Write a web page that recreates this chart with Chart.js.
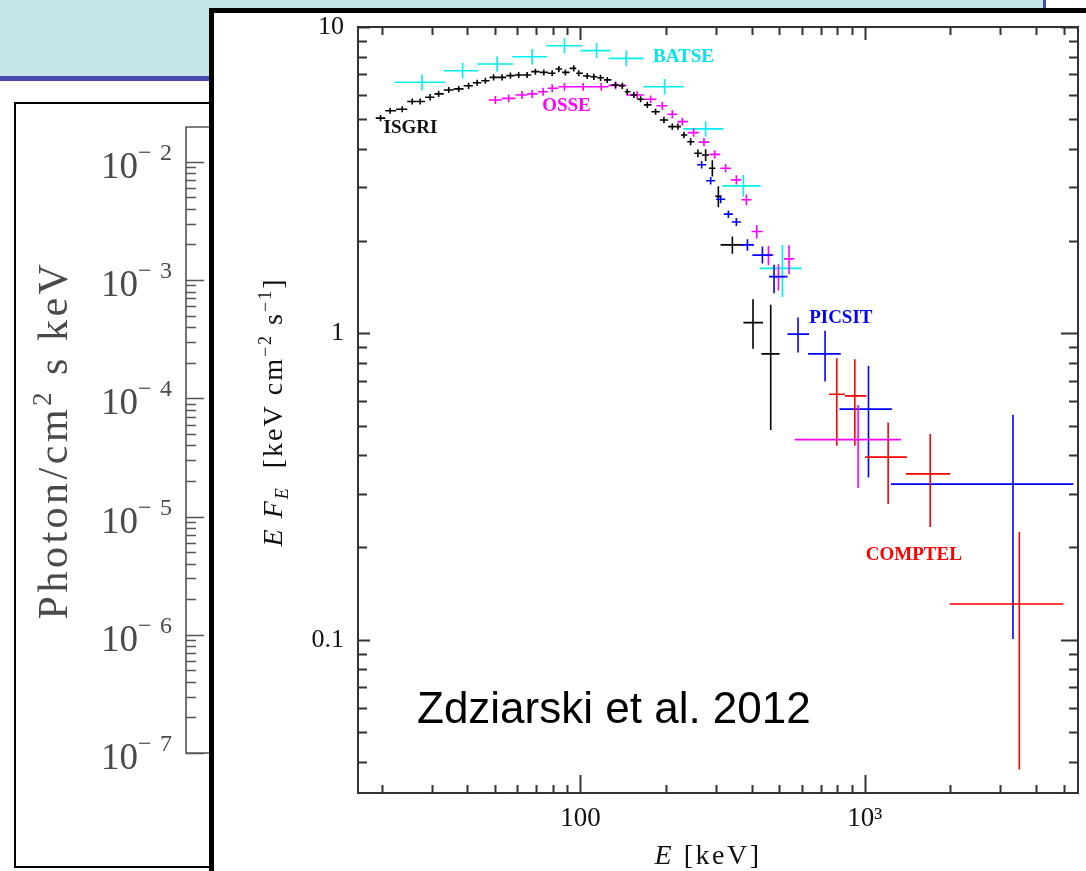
<!DOCTYPE html>
<html>
<head>
<meta charset="utf-8">
<script src="https://cdn.jsdelivr.net/npm/chart.js@4.4.1/dist/chart.umd.min.js"></script>
<style>
  body { margin: 0; width: 1086px; height: 871px; position: relative; overflow: hidden; background: #fff; }
  #header { position: absolute; left: 0; top: 0; width: 1043px; height: 76px; background: #c5e5e8; }
  #rule { position: absolute; left: 0; top: 76px; width: 1043px; height: 5px; background: #4848ae; }
  #edge { position: absolute; left: 1043px; top: 0; width: 3px; height: 81px; background: #4848ae; }
  #leftBox { position: absolute; left: 14px; top: 102px; width: 280px; height: 766px; box-sizing: border-box;
             border: 2px solid #000; background: #fff; }
  #behind { position: absolute; left: 16px; top: 104px; }
  #front { position: absolute; left: 209px; top: 8px; width: 900px; height: 900px;
           border-left: 5px solid #000; border-top: 5px solid #000; background: #fff; }
  #spectrum { position: absolute; left: 0; top: -13px; }
  #cite { position: absolute; left: 417px; top: 686px; font: 44px "Liberation Sans", Arial, sans-serif;
          line-height: 1; color: #000; white-space: nowrap; }
</style>
</head>
<body>
<div id="header"></div>
<div id="rule"></div>
<div id="edge"></div>
<div id="leftBox"></div>
<canvas id="behind" width="230" height="762"></canvas>
<div id="front"><canvas id="spectrum" width="872" height="871"></canvas></div>
<div id="cite">Zdziarski et al. 2012</div>

<script>
// ---- axes ----
var eRange = [16.5, 5620];          // E [keV]
var fRange = [0.0316, 10];          // E F_E [keV cm^-2 s^-1]
var eTicks = [100, 1000];
var eTickLabels = ['100', '10\u00b3'];
var fTicks = [0.1, 1, 10];
var fTickLabels = ['0.1', '1', '10'];

// photon-flux panel behind (only its axis shows)
var bgRange = [1e-7, 0.0197];
var bgExponents = [-7, -6, -5, -4, -3, -2];

// ---- ISGRI (contiguous bins) ----
var isgriE = [19.8, 21.4, 23.6, 25.6, 27.3, 29.6, 31.7, 34.4, 37.3, 40.4, 43.3, 46.3, 49.5, 53.0, 56.7,
              60.6, 64.9, 69.4, 74.3, 79.5, 83.9, 88.5, 94.7, 98.6, 105.6, 111.4, 117.6, 124.2, 132.8,
              140.3, 146.0, 154.1, 162.7, 171.8, 183.7, 196.6, 210.3, 220.1, 231.1, 244.0, 258.8, 275.5,
              290.9, 305.4];
var isgriF = [5.04, 5.33, 5.39, 5.71, 5.71, 5.90, 6.05, 6.23, 6.28, 6.43, 6.58, 6.68, 6.85, 6.85, 6.94,
              6.97, 6.97, 7.15, 7.11, 7.06, 7.29, 7.11, 7.33, 7.06, 6.92, 6.88, 6.83, 6.72, 6.47,
              6.43, 6.15, 6.00, 5.81, 5.57, 5.29, 4.97, 4.73, 4.73, 4.44, 4.22, 3.87, 3.82,
              3.46, 2.80];
var isgriDF = [0.12, 0.12, 0.12, 0.13, 0.13, 0.14, 0.14, 0.14, 0.14, 0.15, 0.15, 0.15, 0.16, 0.16, 0.16,
               0.16, 0.16, 0.16, 0.16, 0.16, 0.17, 0.16, 0.17, 0.16, 0.16, 0.16, 0.16, 0.15, 0.15,
               0.15, 0.14, 0.14, 0.13, 0.13, 0.12, 0.12, 0.11, 0.11, 0.11, 0.11, 0.11, 0.17,
               0.21, 0.22];
// ISGRI wide high-energy bins
var isgriHiE = [342.1, 404.3, 466.7];
var isgriHiELo = [311, 374, 432.6];
var isgriHiEHi = [375.8, 438.4, 500.9];
var isgriHiF = [1.944, 1.084, 0.857];
var isgriHiFLo = [1.82, 0.890, 0.484];
var isgriHiFHi = [2.07, 1.293, 1.239];

// ---- BATSE ----
var batseE = [27.7, 38.5, 50.9, 67.6, 87.8, 113.9, 144.8, 197.6, 275.5, 374, 513];
var batseELo = [22.2, 33.0, 43.3, 57.5, 75.7, 100.0, 125.5, 166.3, 229.9, 315.5, 427];
var batseEHi = [33.4, 43.7, 58.0, 76.3, 101.4, 127.5, 166.7, 231.0, 318, 430, 600];
var batseF = [6.60, 7.20, 7.57, 8.00, 8.69, 8.37, 7.90, 6.38, 4.65, 3.03, 1.63];
var batseFLo = [6.22, 6.79, 7.14, 7.55, 8.20, 7.90, 7.45, 6.02, 4.39, 2.79, 1.315];
var batseFHi = [7.00, 7.63, 8.03, 8.48, 9.21, 8.87, 8.38, 6.76, 4.92, 3.29, 1.944];

// ---- OSSE (contiguous bins + one wide bin) ----
var osseE = [50.2, 55.9, 62.3, 67.6, 73.9, 79.5, 87.8, 102.2, 118.3, 132.8, 158.3, 176.4, 194.0, 210.3,
             228.0, 249.9, 271.8, 296.4, 324.0, 353.3, 383.2, 416.7, 458.1, 496.7, 541.3];
var osseF = [5.78, 5.85, 6.00, 6.05, 6.15, 6.31, 6.38, 6.38, 6.38, 6.45, 6.00, 5.81, 5.53, 5.19,
             4.91, 4.52, 4.21, 3.84, 3.46, 3.17, 2.73, 2.15, 1.80, 1.53, 1.75];
var osseDF = [0.17, 0.17, 0.18, 0.18, 0.18, 0.19, 0.19, 0.19, 0.19, 0.19, 0.18, 0.17, 0.17, 0.16,
              0.15, 0.14, 0.13, 0.12, 0.11, 0.11, 0.11, 0.11, 0.13, 0.15, 0.19];
var osseHiE = [947];
var osseHiELo = [567];
var osseHiEHi = [1340];
var osseHiF = [0.450];
var osseHiFLo = [0.3126];
var osseHiFHi = [0.584];

// ---- PICSIT ----
var picsitE = [266.8, 286.9, 311.2, 331.2, 353.3, 386.4, 436.3, 479.4, 582.2, 724.8, 1030, 3319];
var picsitELo = [257.2, 276.5, 300.0, 319.2, 340.6, 366, 402.3, 460.3, 534.5, 631.7, 814.5, 1235];
var picsitEHi = [276.8, 297.6, 322.8, 343.5, 366.5, 407.6, 473.2, 534.5, 636.8, 823.1, 1245, 5414];
var picsitF = [3.55, 3.15, 2.74, 2.45, 2.31, 1.944, 1.80, 1.532, 0.994, 0.857, 0.566, 0.322];
var picsitFLo = [3.45, 3.06, 2.66, 2.38, 2.24, 1.86, 1.69, 1.352, 0.866, 0.696, 0.3384, 0.1005];
var picsitFHi = [3.65, 3.24, 2.82, 2.52, 2.38, 2.03, 1.92, 1.674, 1.126, 1.019, 0.783, 0.542];

// ---- COMPTEL ----
var comptelE = [796.8, 922.2, 1207.8, 1698, 3494];
var comptelELo = [748.5, 850.6, 1002.5, 1394.5, 1987];
var comptelEHi = [850.6, 1013.9, 1405.7, 1997, 4991];
var comptelF = [0.633, 0.625, 0.3945, 0.3479, 0.1308];
var comptelFLo = [0.4295, 0.4295, 0.2771, 0.2332, 0.0377];
var comptelFHi = [0.830, 0.8235, 0.5117, 0.469, 0.2246];

// instrument names, placed at (E, F)
var tags = [
    { text: 'BATSE', e: 180, f: 8.0, color: '#00e6ee' },
    { text: 'OSSE', e: 73.3, f: 5.50, color: '#ff00ff' },
    { text: 'ISGRI', e: 20.3, f: 4.67, color: '#111' },
    { text: 'PICSIT', e: 637, f: 1.121, color: '#0000ff' },
    { text: 'COMPTEL', e: 1008, f: 0.1884, color: '#ff0000' }
];

var SERIF = '"Liberation Serif", "Times New Roman", serif';

// adjacent bins: edges halfway (in log) between neighbouring centres
function binEdges(e) {
    var lo = [], hi = [];
    for (var i = 0; i < e.length; i++) {
        var l = i > 0 ? Math.sqrt(e[i - 1] * e[i]) : e[i] * Math.sqrt(e[i] / e[i + 1]);
        var h = i < e.length - 1 ? Math.sqrt(e[i] * e[i + 1]) : e[i] * Math.sqrt(e[i] / e[i - 1]);
        lo.push(l); hi.push(h);
    }
    return { lo: lo, hi: hi };
}

function errSet(label, color, e, eLo, eHi, f, fLo, fHi) {
    var pts = [];
    for (var i = 0; i < e.length; i++) pts.push({ x: e[i], y: f[i] });
    return { label: label, data: pts, eLo: eLo, eHi: eHi, fLo: fLo, fHi: fHi,
             borderColor: color, backgroundColor: color, pointRadius: 0, showLine: false };
}

var isgriBins = binEdges(isgriE);
var osseBins = binEdges(osseE);

var datasets = [
    errSet('BATSE', '#00eef0', batseE, batseELo, batseEHi, batseF, batseFLo, batseFHi),
    errSet('OSSE', '#ff00ff', osseE, osseBins.lo, osseBins.hi, osseF,
           osseF.map(function(v, i) { return v - osseDF[i]; }),
           osseF.map(function(v, i) { return v + osseDF[i]; })),
    errSet('ISGRI', '#000000', isgriE, isgriBins.lo, isgriBins.hi, isgriF,
           isgriF.map(function(v, i) { return v - isgriDF[i]; }),
           isgriF.map(function(v, i) { return v + isgriDF[i]; })),
    errSet('ISGRI wide', '#000000', isgriHiE, isgriHiELo, isgriHiEHi, isgriHiF, isgriHiFLo, isgriHiFHi),
    errSet('PICSIT', '#0000ff', picsitE, picsitELo, picsitEHi, picsitF, picsitFLo, picsitFHi),
    errSet('COMPTEL', '#ff0000', comptelE, comptelELo, comptelEHi, comptelF, comptelFLo, comptelFHi),
    errSet('OSSE wide', '#ff00ff', osseHiE, osseHiELo, osseHiEHi, osseHiF, osseHiFLo, osseHiFHi)
];

// draws a row of text pieces (sub/superscripts via dy) centred on x
function drawRuns(ctx, runs, x, y, spacing) {
    ctx.letterSpacing = spacing + 'px';
    var total = 0;
    runs.forEach(function(r) { ctx.font = r.font; r.w = ctx.measureText(r.t).width; total += r.w; });
    var cx = x - total / 2;
    ctx.textAlign = 'left';
    ctx.textBaseline = 'alphabetic';
    runs.forEach(function(r) {
        ctx.font = r.font;
        ctx.fillText(r.t, cx, y + (r.dy || 0));
        cx += r.w;
    });
    ctx.letterSpacing = '0px';
}

// log ticks 1..9 x decade inside a range
function logTicks(min, max) {
    var out = [];
    for (var k = Math.floor(Math.log10(min)); k <= Math.ceil(Math.log10(max)); k++) {
        for (var m = 1; m <= 9; m++) {
            var v = m * Math.pow(10, k);
            if (v >= min * 0.999 && v <= max * 1.001) out.push({ v: v, major: m === 1 });
        }
    }
    return out;
}

var errorBars = {
    id: 'errorBars',
    afterDatasetsDraw: function(chart) {
        var ctx = chart.ctx, x = chart.scales.x, y = chart.scales.y, a = chart.chartArea;
        ctx.save();
        ctx.beginPath();
        ctx.rect(a.left, a.top, a.right - a.left, a.bottom - a.top);
        ctx.clip();
        ctx.lineWidth = 1.6;
        chart.data.datasets.forEach(function(ds) {
            ctx.strokeStyle = ds.borderColor;
            ds.data.forEach(function(p, i) {
                var px = x.getPixelForValue(p.x), py = y.getPixelForValue(p.y);
                ctx.beginPath();
                ctx.moveTo(x.getPixelForValue(ds.eLo[i]), py);
                ctx.lineTo(x.getPixelForValue(ds.eHi[i]), py);
                ctx.moveTo(px, y.getPixelForValue(ds.fLo[i]));
                ctx.lineTo(px, y.getPixelForValue(ds.fHi[i]));
                ctx.stroke();
            });
        });
        ctx.restore();
    }
};

var frameAndText = {
    id: 'frameAndText',
    afterDraw: function(chart) {
        var ctx = chart.ctx, x = chart.scales.x, y = chart.scales.y, a = chart.chartArea;
        ctx.save();
        ctx.strokeStyle = '#333';
        ctx.lineWidth = 2;
        ctx.strokeRect(a.left, a.top, a.right - a.left, a.bottom - a.top);

        // inward ticks on all four sides
        ctx.beginPath();
        logTicks(eRange[0], eRange[1]).forEach(function(t) {
            var px = Math.round(x.getPixelForValue(t.v)) + 0.5;
            ctx.moveTo(px, a.bottom); ctx.lineTo(px, a.bottom - (t.major ? 18 : 8));
            ctx.moveTo(px, a.top); ctx.lineTo(px, a.top + (t.major ? 13 : 8));
        });
        logTicks(fRange[0], fRange[1]).forEach(function(t) {
            var py = Math.round(y.getPixelForValue(t.v)) + 0.5;
            ctx.moveTo(a.left, py); ctx.lineTo(a.left + (t.major ? 12 : 9), py);
            ctx.moveTo(a.right, py); ctx.lineTo(a.right - (t.major ? 17 : 9), py);
        });
        ctx.stroke();

        // instrument names
        ctx.font = 'bold 19px ' + SERIF;
        ctx.textAlign = 'left';
        ctx.textBaseline = 'middle';
        tags.forEach(function(t) {
            ctx.fillStyle = t.color;
            ctx.fillText(t.text, x.getPixelForValue(t.e), y.getPixelForValue(t.f));
        });

        // axis titles
        ctx.fillStyle = '#111';
        var big = '28px ' + SERIF, bigI = 'italic 28px ' + SERIF;
        var small = '18px ' + SERIF, smallI = 'italic 18px ' + SERIF;
        drawRuns(ctx, [
            { t: 'E', font: bigI },
            { t: ' [keV]', font: big }
        ], (a.left + a.right) / 2 - 10, 864, 2.5);

        ctx.translate(68, 412);
        ctx.rotate(-Math.PI / 2);
        drawRuns(ctx, [
            { t: 'E ', font: bigI },
            { t: 'F', font: bigI },
            { t: 'E', font: smallI, dy: 6 },
            { t: '  [keV cm', font: big },
            { t: '\u22122', font: small, dy: -11 },
            { t: ' s', font: big },
            { t: '\u22121', font: small, dy: -11 },
            { t: ']', font: big }
        ], 0, 0, 2);
        ctx.restore();
    }
};

new Chart(document.getElementById('spectrum'), {
    type: 'scatter',
    data: { datasets: datasets },
    options: {
        responsive: false,
        animation: false,
        devicePixelRatio: 1,
        layout: { padding: { top: 0, right: 8, left: 0, bottom: 0 } },
        plugins: { legend: { display: false }, tooltip: { enabled: false } },
        scales: {
            x: {
                type: 'logarithmic',
                min: eRange[0],
                max: eRange[1],
                grid: { display: false, drawTicks: false },
                border: { display: false },
                afterFit: function(s) { s.height = 78; },
                afterBuildTicks: function(s) { s.ticks = eTicks.map(function(v) { return { value: v }; }); },
                ticks: {
                    autoSkip: false,
                    maxRotation: 0,
                    padding: 12,
                    color: '#111',
                    font: { family: SERIF, size: 27, lineHeight: 1 },
                    callback: function(v, i) { return eTickLabels[i]; }
                }
            },
            y: {
                type: 'logarithmic',
                min: fRange[0],
                max: fRange[1],
                grid: { display: false, drawTicks: false },
                border: { display: false },
                afterFit: function(s) { s.width = 144; },
                afterBuildTicks: function(s) { s.ticks = fTicks.map(function(v) { return { value: v }; }); },
                ticks: {
                    autoSkip: false,
                    padding: 14,
                    color: '#111',
                    font: { family: SERIF, size: 26, lineHeight: 1 },
                    callback: function(v, i) { return fTickLabels[i]; }
                }
            }
        }
    },
    plugins: [errorBars, frameAndText]
});

// photon flux axis of the panel underneath
var behindAxis = {
    id: 'behindAxis',
    afterDraw: function(chart) {
        var ctx = chart.ctx, y = chart.scales.y, a = chart.chartArea;
        ctx.save();
        ctx.strokeStyle = '#555';
        ctx.lineWidth = 1.6;
        ctx.beginPath();
        ctx.moveTo(chart.width, a.top); ctx.lineTo(a.left, a.top);
        ctx.lineTo(a.left, a.bottom); ctx.lineTo(chart.width, a.bottom);
        logTicks(bgRange[0], bgRange[1]).forEach(function(t) {
            var py = Math.round(y.getPixelForValue(t.v)) + 0.5;
            ctx.moveTo(a.left, py); ctx.lineTo(a.left + (t.major ? 18 : 10), py);
        });
        ctx.stroke();

        ctx.fillStyle = '#4a4a4a';
        ctx.textBaseline = 'alphabetic';
        bgExponents.forEach(function(k) {
            var py = y.getPixelForValue(Math.pow(10, k));
            ctx.font = '37px ' + SERIF;
            ctx.textAlign = 'right';
            ctx.fillText('10', a.left - 48, py + 16);
            ctx.font = '24px ' + SERIF;
            ctx.textAlign = 'left';
            ctx.fillText('\u2212', a.left - 48, py - 2);
            ctx.textAlign = 'right';
            ctx.fillText(String(-k), a.left - 14, py - 2);
        });

        ctx.translate(51, 336);
        ctx.rotate(-Math.PI / 2);
        drawRuns(ctx, [
            { t: 'Photon/cm', font: '42px ' + SERIF },
            { t: '2', font: '27px ' + SERIF, dy: -16 },
            { t: ' s keV', font: '42px ' + SERIF }
        ], 0, 0, 3.5);
        ctx.restore();
    }
};

new Chart(document.getElementById('behind'), {
    type: 'scatter',
    data: { datasets: [] },
    options: {
        responsive: false,
        animation: false,
        devicePixelRatio: 1,
        layout: { padding: { top: 23, bottom: 113, left: 0, right: 0 } },
        plugins: { legend: { display: false }, tooltip: { enabled: false } },
        scales: {
            x: { display: false, min: 0, max: 1 },
            y: {
                type: 'logarithmic',
                min: bgRange[0],
                max: bgRange[1],
                grid: { display: false },
                border: { display: false },
                ticks: { display: false },
                afterFit: function(s) { s.width = 170; }
            }
        }
    },
    plugins: [behindAxis]
});
</script>
</body>
</html>
